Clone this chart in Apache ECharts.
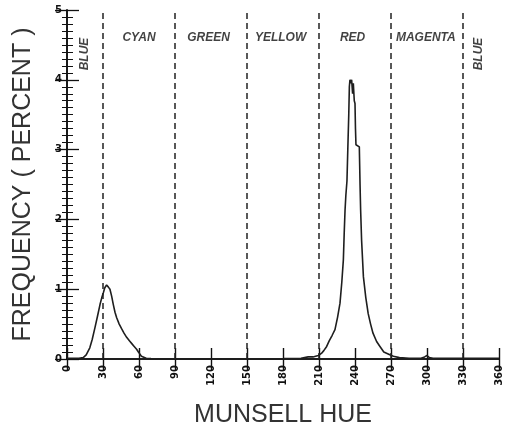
<!DOCTYPE html>
<html>
<head>
<meta charset="utf-8">
<script src="https://cdn.jsdelivr.net/npm/echarts@6/dist/echarts.min.js"></script>
<style>
html,body{margin:0;padding:0;background:#fff;}
#c{width:512px;height:429px;}
</style>
</head>
<body>
<div id="c"></div>
<script>
// Munsell hue (degrees) and frequency (percent)
var hue = [0,5,10,13.5,16,19,21,23.3,25.5,27.5,29,30.3,31.5,33,34.5,35.8,37.2,38.6,40,41.4,43.5,45.6,47.5,49.7,52,54,56,58,59.5,60.8,62,63.6,66,70,80,120,180,195,201,205,209.4,212,214,216.4,218.5,221,223.3,225.5,227.5,229,230.3,231,231.7,232.4,233.3,234,234.8,235.3,235.8,236.5,237.2,238,238.6,239.4,240,240.4,240.8,242,243.6,244.2,244.7,245.5,247,249,251,253,255,258,260.8,264,269,272,277,285,295,298,300,302,305,330,360];
var freq = [0.01,0.01,0.01,0.02,0.06,0.16,0.28,0.45,0.62,0.78,0.88,0.95,1.02,1.06,1.03,1.0,0.9,0.78,0.67,0.59,0.5,0.43,0.37,0.31,0.26,0.22,0.18,0.14,0.10,0.07,0.04,0.02,0.01,0.005,0,0,0.005,0.01,0.03,0.03,0.05,0.08,0.12,0.18,0.26,0.34,0.42,0.6,0.8,1.1,1.42,1.8,2.13,2.35,2.55,3.0,3.5,3.9,4.0,3.95,4.0,3.8,3.95,3.7,3.66,3.3,3.07,3.05,3.04,2.5,2.13,1.7,1.18,0.88,0.65,0.5,0.37,0.25,0.18,0.1,0.06,0.04,0.02,0.01,0.01,0.03,0.05,0.02,0.01,0.01,0.01];

// Hue region boundaries (dashed lines)
var boundaries = [30, 90, 150, 210, 270, 330];
// Hue region names and their label positions (hue, frequency)
var regionNames = ['BLUE','CYAN','GREEN','YELLOW','RED','MAGENTA','BLUE'];
var regionHue   = [15, 60, 118, 178, 238, 299, 343];
var regionFreq  = [4.37, 4.61, 4.61, 4.61, 4.61, 4.61, 4.37];
var regionRot   = [90, 0, 0, 0, 0, 0, 90];

var xTicks = [0,30,60,90,120,150,180,210,240,270,300,330,360];
var yTicks = [0,1,2,3,4,5];

var lineData = hue.map(function(h,i){return [h, freq[i]];});
var regionData = regionNames.map(function(n,i){
  return {name:n, value:[regionHue[i], regionFreq[i]], label:{rotate:regionRot[i]}};
});

var axisCol = '#111';
var chart = echarts.init(document.getElementById('c'), null, {renderer:'canvas'});
chart.setOption({
  animation:false,
  backgroundColor:'#ffffff',
  grid:{left:67, right:13, top:10, bottom:70, containLabel:false, outerBoundsMode:'none'},
  xAxis:[{
    type:'value', min:xTicks[0], max:xTicks[xTicks.length-1], interval:30,
    position:'bottom',
    name:'MUNSELL HUE', nameLocation:'middle', nameGap:44,
    nameTextStyle:{fontFamily:'Liberation Sans', fontSize:25, color:'#333'},
    axisLine:{lineStyle:{color:axisCol, width:1.6}},
    axisTick:{inside:true, length:11, lineStyle:{color:axisCol, width:1.4}},
    axisLabel:{rotate:90, margin:6, fontFamily:'DejaVu Sans', fontWeight:'bold', fontSize:10, color:'#111'},
    splitLine:{show:false}
  },{
    type:'value', min:xTicks[0], max:xTicks[xTicks.length-1], interval:30,
    position:'top',
    axisLine:{lineStyle:{color:axisCol, width:1.6}},
    axisTick:{inside:true, length:11, lineStyle:{color:axisCol, width:1.4}},
    axisLabel:{show:false},
    splitLine:{show:false}
  }],
  yAxis:[{
    type:'value', min:yTicks[0], max:yTicks[yTicks.length-1], interval:1,
    position:'left',
    name:'FREQUENCY ( PERCENT )', nameLocation:'middle', nameGap:31,
    nameTextStyle:{fontFamily:'Liberation Sans', fontSize:25, color:'#333'},
    axisLine:{show:true, lineStyle:{color:axisCol, width:1.6}},
    axisTick:{show:true, inside:true, length:12, lineStyle:{color:axisCol, width:1.3}},
    minorTick:{show:true, splitNumber:10, length:6, lineStyle:{color:axisCol, width:1}},
    axisLabel:{margin:5, fontFamily:'DejaVu Sans', fontWeight:'bold', fontSize:10, color:'#111'},
    splitLine:{show:false}
  },{
    type:'value', min:yTicks[0], max:yTicks[yTicks.length-1], interval:1,
    position:'right',
    axisLine:{show:true, lineStyle:{color:axisCol, width:1.6}},
    axisTick:{show:true, inside:true, length:12, lineStyle:{color:axisCol, width:1.3}},
    minorTick:{show:true, splitNumber:10, length:5, lineStyle:{color:axisCol, width:1}},
    axisLabel:{show:false},
    splitLine:{show:false}
  }],
  series:[{
    type:'line',
    data:lineData,
    showSymbol:false,
    smooth:false,
    lineStyle:{color:'#1e1e1e', width:1.6},
    markLine:{
      silent:true,
      symbol:['none','none'],
      label:{show:false},
      lineStyle:{color:'#222', width:1.5, type:[6,4]},
      data:boundaries.map(function(b){return {xAxis:b};})
    }
  },{
    type:'scatter',
    symbolSize:0,
    data:regionData,
    label:{
      show:true, position:'inside',
      formatter:function(p){return p.name;},
      fontFamily:'Liberation Sans', fontStyle:'italic', fontWeight:'bold',
      fontSize:12, color:'#111'
    }
  }]
});
</script>
</body>
</html>
